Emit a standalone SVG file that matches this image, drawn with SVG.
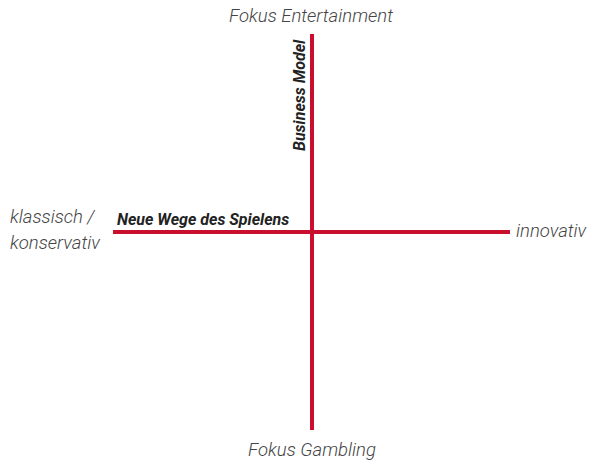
<svg xmlns="http://www.w3.org/2000/svg" width="589" height="461" viewBox="0 0 589 461">
<style>
.axis{stroke:#C8102E;stroke-width:4;fill:none}
.lbl{font-family:Roboto,"Liberation Sans",sans-serif;font-style:italic;font-weight:300;font-size:18.5px;fill:#444}
.ax{font-family:Roboto,"Liberation Sans",sans-serif;font-style:italic;font-weight:700;font-size:16px;fill:#222}
</style>
<rect width="589" height="461" fill="#fff"/>
<g id="connectors">
<line class="axis" x1="312" y1="34" x2="312" y2="430"/>
<line class="axis" x1="113" y1="232" x2="510" y2="232"/>
</g>
<g id="top"><text class="lbl" x="311" y="22" text-anchor="middle">Fokus Entertainment</text></g>
<g id="bottom"><text class="lbl" x="312" y="456" text-anchor="middle">Fokus Gambling</text></g>
<g id="left"><text class="lbl" x="10" y="223">klassisch /</text><text class="lbl" x="10" y="249">konservativ</text></g>
<g id="right"><text class="lbl" x="516" y="237">innovativ</text></g>
<g id="xaxis-label"><text class="ax" x="117" y="225">Neue Wege des Spielens</text></g>
<g id="yaxis-label"><text class="ax" transform="translate(305,151) rotate(-90)">Business Model</text></g>
</svg>
